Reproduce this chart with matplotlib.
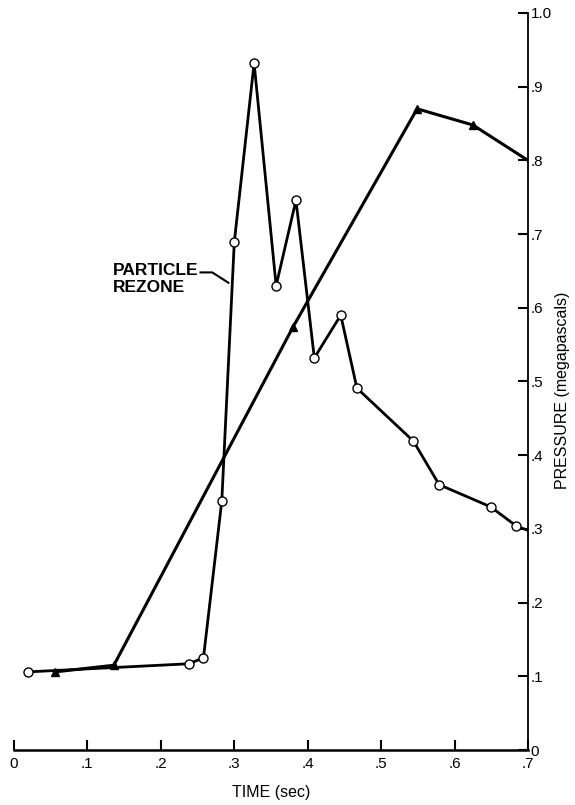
import matplotlib
matplotlib.use('Agg')
import matplotlib.pyplot as plt

# particle rezone (open circles)
t_circ = [0.019, 0.238, 0.258, 0.283, 0.300, 0.327, 0.357, 0.384, 0.409,
          0.445, 0.467, 0.544, 0.579, 0.649, 0.684, 0.700]
p_circ = [0.106, 0.117, 0.125, 0.338, 0.689, 0.932, 0.630, 0.746, 0.532,
          0.590, 0.491, 0.419, 0.360, 0.330, 0.304, 0.298]

# other run (filled triangles)
t_tri = [0.056, 0.136, 0.380, 0.549, 0.625, 0.700]
p_tri = [0.106, 0.115, 0.574, 0.870, 0.848, 0.800]

xticks = [0, 0.1, 0.2, 0.3, 0.4, 0.5, 0.6, 0.7]
xlabels = ['0', '.1', '.2', '.3', '.4', '.5', '.6', '.7']
yticks = [0, 0.1, 0.2, 0.3, 0.4, 0.5, 0.6, 0.7, 0.8, 0.9, 1.0]
ylabels = ['0', '.1', '.2', '.3', '.4', '.5', '.6', '.7', '.8', '.9', '1.0']

plt.rcParams['font.family'] = ['Liberation Sans', 'DejaVu Sans']

fig = plt.figure(figsize=(5.75, 8.05), dpi=100)
ax = fig.add_axes([14/575, 1 - 750/805, (528 - 14)/575, (750 - 13)/805])

ax.plot(t_tri, p_tri, color='black', lw=2.2, marker='^', ms=6,
        markevery=list(range(len(t_tri) - 1)), zorder=2)
ax.plot(t_circ, p_circ, color='black', lw=2.0, marker='o', ms=6.5,
        mfc='white', mec='black', mew=1.0,
        markevery=list(range(len(t_circ) - 1)), zorder=3)

ax.set_xlim(0, 0.7)
ax.set_ylim(0, 1.0)
ax.spines['left'].set_visible(False)
ax.spines['top'].set_visible(False)
ax.spines['right'].set_linewidth(1.3)
ax.spines['bottom'].set_linewidth(1.8)

ax.yaxis.tick_right()
ax.set_xticks(xticks)
ax.set_xticklabels(xlabels)
ax.set_yticks(yticks)
ax.set_yticklabels(ylabels)
ax.tick_params(axis='both', direction='in', length=7, width=1.5,
               labelsize=11, pad=2)
ax.tick_params(axis='x', pad=5)

ax.set_xlabel('TIME (sec)', fontsize=11.5, labelpad=10)
fig.text(563/575, 1 - 390/805, 'PRESSURE (megapascals)', fontsize=11.5,
         rotation=90, ha='center', va='center')

ax.text(0.135, 0.639, 'PARTICLE\nREZONE', fontsize=12.5, fontweight='bold',
        ha='left', va='center', linespacing=1.15)
ax.plot([0.254, 0.270, 0.292], [0.648, 0.648, 0.634], color='black', lw=1.5)

fig.savefig('out.png', dpi=100)
